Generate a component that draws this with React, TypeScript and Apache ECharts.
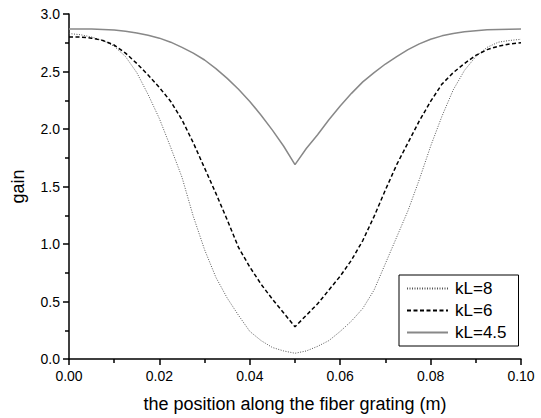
import React, { useEffect, useRef } from "react";
import * as echarts from "echarts";

const positions: number[] = [
  0, 0.0025, 0.005, 0.0075, 0.01, 0.0125, 0.015, 0.0175, 0.02, 0.0225,
  0.025, 0.0275, 0.03, 0.0325, 0.035, 0.0375, 0.04, 0.0425, 0.045, 0.0475,
  0.05, 0.0525, 0.055, 0.0575, 0.06, 0.0625, 0.065, 0.0675, 0.07, 0.0725,
  0.075, 0.0775, 0.08, 0.0825, 0.085, 0.0875, 0.09, 0.0925, 0.095, 0.0975, 0.1,
];

const gainKL8: number[] = [
  2.83, 2.82, 2.8, 2.77, 2.72, 2.63, 2.49, 2.3, 2.09, 1.84,
  1.58, 1.24, 0.95, 0.71, 0.53, 0.38, 0.24, 0.16, 0.1, 0.07,
  0.05, 0.07, 0.11, 0.16, 0.24, 0.33, 0.44, 0.6, 0.83, 1.06,
  1.29, 1.56, 1.85, 2.11, 2.34, 2.51, 2.63, 2.71, 2.755, 2.77, 2.78,
];

const gainKL6: number[] = [
  2.8, 2.8, 2.79, 2.77, 2.73, 2.66, 2.57, 2.47, 2.36, 2.24,
  2.08, 1.88, 1.66, 1.44, 1.21, 0.97, 0.8, 0.65, 0.52, 0.4,
  0.28, 0.38, 0.48, 0.6, 0.72, 0.86, 1.03, 1.24, 1.47, 1.69,
  1.88, 2.07, 2.24, 2.39, 2.49, 2.57, 2.64, 2.69, 2.72, 2.74, 2.75,
];

const gainKL45: number[] = [
  2.87, 2.87, 2.87, 2.865, 2.86, 2.85, 2.835, 2.815, 2.79, 2.755,
  2.71, 2.66, 2.6, 2.525, 2.44, 2.345, 2.24, 2.12, 1.99, 1.85,
  1.69, 1.83, 1.95, 2.08, 2.2, 2.31, 2.41, 2.49, 2.565, 2.63,
  2.69, 2.74, 2.78, 2.81, 2.83, 2.845, 2.855, 2.862, 2.866, 2.868, 2.87,
];

const seriesNames = ["kL=8", "kL=6", "kL=4.5"];

const pair = (ys: number[]) => positions.map((x, i) => [x, ys[i]]);

export default function App() {
  const ref = useRef<HTMLDivElement>(null);
  useEffect(() => {
    if (!ref.current) return;
    const chart = echarts.init(ref.current, null, { renderer: "svg" });
    const font = "Liberation Sans, Arial, sans-serif";
    chart.setOption({
      animation: false,
      backgroundColor: "#fff",
      textStyle: { fontFamily: font },
      grid: { left: 69, right: 20, top: 14, bottom: 57, containLabel: false },
      legend: {
        orient: "vertical",
        left: 399,
        top: 275,
        padding: [5, 12, 5, 7],
        borderColor: "#000",
        borderWidth: 1,
        itemWidth: 41,
        itemHeight: 14,
        itemGap: 5,
        itemStyle: { color: "transparent", borderWidth: 0, opacity: 0 },
        textStyle: { fontSize: 17, color: "#000", fontFamily: font, padding: [0, 0, 0, 2] },
        data: seriesNames,
      },
      xAxis: {
        type: "value",
        min: 0,
        max: 0.1,
        interval: 0.02,
        name: "the position along the fiber grating (m)",
        nameLocation: "middle",
        nameGap: 36,
        nameTextStyle: { fontSize: 18, color: "#000", fontFamily: font },
        axisLine: { show: true, lineStyle: { color: "#000", width: 1.5 } },
        axisTick: { show: true, inside: false, length: 6, lineStyle: { color: "#000", width: 1.5 } },
        minorTick: { show: true, splitNumber: 2, length: 4, lineStyle: { color: "#000", width: 1.5 } },
        axisLabel: {
          margin: 10,
          fontSize: 14,
          color: "#000",
          fontFamily: font,
          formatter: (v: number) => v.toFixed(2),
        },
        splitLine: { show: false },
      },
      yAxis: {
        type: "value",
        min: 0,
        max: 3,
        interval: 0.5,
        name: "gain",
        nameLocation: "middle",
        nameGap: 42,
        nameTextStyle: { fontSize: 18, color: "#000", fontFamily: font },
        axisLine: { show: true, lineStyle: { color: "#000", width: 1.5 } },
        axisTick: { show: true, inside: false, length: 6, lineStyle: { color: "#000", width: 1.5 } },
        minorTick: { show: true, splitNumber: 2, length: 4, lineStyle: { color: "#000", width: 1.5 } },
        axisLabel: {
          margin: 9,
          fontSize: 14,
          color: "#000",
          fontFamily: font,
          formatter: (v: number) => v.toFixed(1),
        },
        splitLine: { show: false },
      },
      series: [
        {
          name: seriesNames[0],
          type: "line",
          symbol: "none",
          data: pair(gainKL8),
          lineStyle: { color: "#555", width: 1, type: [1, 1.5] },
          itemStyle: { color: "#555" },
        },
        {
          name: seriesNames[1],
          type: "line",
          symbol: "none",
          data: pair(gainKL6),
          lineStyle: { color: "#000", width: 1.5, type: [4, 2.5] },
          itemStyle: { color: "#000" },
        },
        {
          name: seriesNames[2],
          type: "line",
          symbol: "none",
          data: pair(gainKL45),
          lineStyle: { color: "#888", width: 1.5, type: "solid" },
          itemStyle: { color: "#888" },
        },
      ],
    });
    return () => chart.dispose();
  }, []);
  return <div ref={ref} style={{ width: 541, height: 418, position: "absolute", left: 0, top: 0 }} />;
}
